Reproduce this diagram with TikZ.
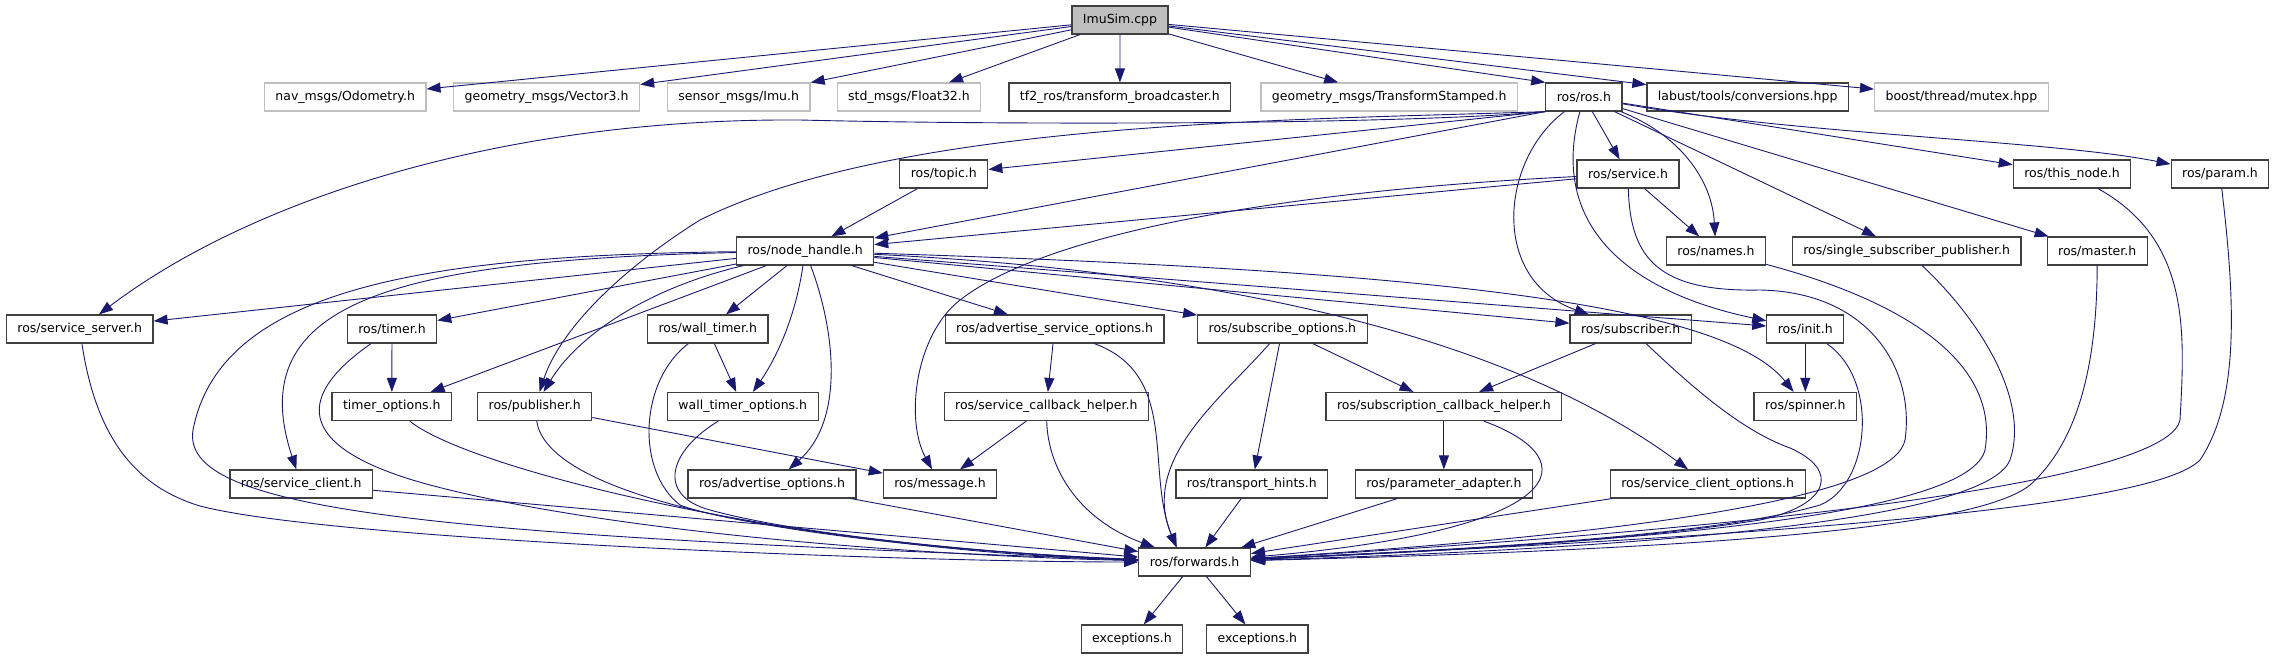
\documentclass[tikz,border=0pt]{standalone}
\usepackage{fontspec}
\setmainfont{DejaVu Sans}
\usetikzlibrary{arrows.meta}
\definecolor{edgeblue}{RGB}{25,25,112}

\begin{document}
\begin{tikzpicture}[x=1pt,y=-1pt,
  file/.style={draw=black!75, line width=1.2pt, fill=white, minimum height=28pt,
    inner xsep=11pt, inner ysep=0pt, font=\fontsize{12.5}{15}\selectfont},
  extfile/.style={file, draw=black!25},
  mainfile/.style={file, fill=black!25},
  inc/.style={color=edgeblue, line width=0.9pt, -{Triangle[length=14pt,width=10pt]}}]

\useasboundingbox (0,0) rectangle (2275,659);

\node[mainfile] (imusim) at (1120,20) {ImuSim.cpp};

\node[extfile] (odom) at (345.2,97) {nav\_msgs/Odometry.h};
\node[extfile] (vecthree) at (546.6,97) {geometry\_msgs/Vector3.h};
\node[extfile] (imu) at (738.7,97) {sensor\_msgs/Imu.h};
\node[extfile] (floatmsg) at (909,97) {std\_msgs/Float32.h};
\node[file] (tfbr) at (1119.9,97) {tf2\_ros/transform\_broadcaster.h};
\node[extfile] (tfstamped) at (1389.2,97) {geometry\_msgs/TransformStamped.h};
\node[file] (rosh) at (1583.9,97) {ros/ros.h};
\node[file] (labust) at (1747.7,97) {labust/tools/conversions.hpp};
\node[extfile] (mutex) at (1961.4,97) {boost/thread/mutex.hpp};

\node[file] (topic) at (943.8,174) {ros/topic.h};
\node[file] (service) at (1628,174) {ros/service.h};
\node[file] (thisnode) at (2072,174) {ros/this\_node.h};
\node[file] (param) at (2220,174) {ros/param.h};

\node[file] (nodehandle) at (805.1,251) {ros/node\_handle.h};
\node[file] (names) at (1715.9,251) {ros/names.h};
\node[file] (ssp) at (1906.6,251) {ros/single\_subscriber\_publisher.h};
\node[file] (master) at (2097.2,251) {ros/master.h};

\node[file] (srvserver) at (79.7,329) {ros/service\_server.h};
\node[file] (timer) at (392,329) {ros/timer.h};
\node[file] (walltimer) at (707.8,329) {ros/wall\_timer.h};
\node[file] (advsrvopt) at (1054.6,329) {ros/advertise\_service\_options.h};
\node[file] (subopt) at (1282.4,329) {ros/subscribe\_options.h};
\node[file] (subscriber) at (1630.6,329) {ros/subscriber.h};
\node[file] (init) at (1805.3,329) {ros/init.h};

\node[file] (timeropt) at (391.8,406.5) {timer\_options.h};
\node[file] (publisher) at (534.7,406.5) {ros/publisher.h};
\node[file] (walltimeropt) at (742.8,406.5) {wall\_timer\_options.h};
\node[file] (srvcb) at (1046.3,406.5) {ros/service\_callback\_helper.h};
\node[file] (subcb) at (1443.9,406.5) {ros/subscription\_callback\_helper.h};
\node[file] (spinner) at (1805.3,406.5) {ros/spinner.h};

\node[file] (srvclient) at (301.2,484) {ros/service\_client.h};
\node[file] (advopt) at (772,484) {ros/advertise\_options.h};
\node[file] (message) at (940,484) {ros/message.h};
\node[file] (transport) at (1251.9,484) {ros/transport\_hints.h};
\node[file] (paramadapt) at (1443.9,484) {ros/parameter\_adapter.h};
\node[file] (srvclientopt) at (1707.7,484) {ros/service\_client\_options.h};

\node[file] (forwards) at (1194.6,562) {ros/forwards.h};

\node[file] (excA) at (1131.9,639) {exceptions.h};
\node[file] (excB) at (1257.3,639) {exceptions.h};

\draw[inc] (imusim) edge (odom);
\draw[inc] (imusim) edge (vecthree);
\draw[inc] (imusim) edge (imu);
\draw[inc] (imusim) edge (floatmsg);
\draw[inc] (imusim) edge (tfbr);
\draw[inc] (imusim) edge (tfstamped);
\draw[inc] (imusim) -- (rosh.north west);
\draw[inc] (imusim) edge (labust);
\draw[inc] (imusim) edge (mutex);

\draw[inc] (rosh.south west) -- (topic);
\draw[inc] (rosh.south west) -- (nodehandle);
\draw[inc] (rosh) edge (service);
\draw[inc] (rosh) edge (ssp);
\draw[inc] (rosh) edge (master);
\draw[inc] (rosh) edge (thisnode);
\draw[inc] (rosh.south west) .. controls (1400,125) and (1000,125) .. (800,120)
  .. controls (500,118) and (250,200) .. (srvserver);
\draw[inc] (rosh.south west) .. controls (1300,120) and (900,120) .. (700,220)
  .. controls (620,270) and (560,330) .. (publisher);
\draw[inc] (rosh) .. controls (1680,135) and (1712,180) .. (names);
\draw[inc] (rosh) .. controls (1800,135) and (2050,140) .. (param);
\draw[inc] (rosh) .. controls (1500,160) and (1490,280) .. (subscriber);
\draw[inc] (rosh) .. controls (1550,220) and (1620,290) .. (init);

\draw[inc] (topic) edge (nodehandle);
\draw[inc] (service) edge (nodehandle);
\draw[inc] (service) edge (names);
\draw[inc] (service) .. controls (1300,190) and (1050,230) .. (960,300)
  .. controls (915,335) and (905,420) .. (message);
\draw[inc] (service) .. controls (1630,260) and (1660,292) .. (1760,290)
  .. controls (1870,292) and (1915,370) .. (1905,440)
  .. controls (1895,490) and (1700,530) .. (forwards);

\draw[inc] (nodehandle) edge (srvserver);
\draw[inc] (nodehandle) edge (timer);
\draw[inc] (nodehandle) edge (timeropt);
\draw[inc] (nodehandle) edge (walltimer);
\draw[inc] (nodehandle) edge (advsrvopt);
\draw[inc] (nodehandle) edge (subopt);
\draw[inc] (nodehandle) edge (subscriber);
\draw[inc] (nodehandle) edge (init);
\draw[inc] (nodehandle) .. controls (640,290) and (575,340) .. (publisher);
\draw[inc] (nodehandle) .. controls (400,260) and (240,300) .. (srvclient);
\draw[inc] (nodehandle) .. controls (420,255) and (220,290) .. (193,430)
  .. controls (180,510) and (420,535) .. (forwards);
\draw[inc] (nodehandle) .. controls (795,320) and (775,360) .. (walltimeropt);
\draw[inc] (nodehandle) .. controls (835,330) and (845,420) .. (advopt);
\draw[inc] (nodehandle) .. controls (1400,270) and (1720,300) .. (spinner);
\draw[inc] (nodehandle) .. controls (1200,270) and (1500,330) .. (srvclientopt);

\draw[inc] (srvserver) .. controls (95,430) and (130,485) .. (200,506)
  .. controls (330,540) and (900,562) .. (forwards);
\draw[inc] (timer) edge (timeropt);
\draw[inc] (timer) .. controls (290,400) and (300,450) .. (430,485)
  .. controls (600,530) and (900,555) .. (forwards);
\draw[inc] (timeropt) .. controls (470,470) and (800,550) .. (forwards);
\draw[inc] (publisher) edge (message);
\draw[inc] (publisher) .. controls (545,480) and (700,540) .. (forwards);
\draw[inc] (walltimer) edge (walltimeropt);
\draw[inc] (walltimer) .. controls (640,380) and (635,470) .. (680,505)
  .. controls (730,525) and (950,552) .. (forwards);
\draw[inc] (walltimeropt) .. controls (670,450) and (655,495) .. (710,510)
  .. controls (800,535) and (1000,555) .. (forwards);
\draw[inc] (srvclient) edge (forwards);
\draw[inc] (advopt) edge (forwards);

\draw[inc] (advsrvopt) edge (srvcb);
\draw[inc] (advsrvopt) .. controls (1180,375) and (1145,470) .. ([xshift=-18pt]forwards.north);
\draw[inc] (srvcb) edge (message);
\draw[inc] (srvcb) .. controls (1048,470) and (1080,520) .. (forwards);

\draw[inc] (subopt) edge (transport);
\draw[inc] (subopt) edge (subcb);
\draw[inc] (subopt) .. controls (1220,400) and (1140,460) .. ([xshift=-18pt]forwards.north);
\draw[inc] (subscriber) edge (subcb);
\draw[inc] (subscriber) .. controls (1690,385) and (1740,430) .. (1790,448)
  .. controls (1840,470) and (1830,505) .. (1760,520)
  .. controls (1600,545) and (1400,552) .. (forwards);
\draw[inc] (subcb) edge (paramadapt);
\draw[inc] (subcb) .. controls (1590,460) and (1570,530) .. (forwards);
\draw[inc] (transport) edge (forwards);
\draw[inc] (paramadapt) edge (forwards);
\draw[inc] (srvclientopt) edge (forwards);

\draw[inc] (init) edge (spinner);
\draw[inc] (init) .. controls (1880,380) and (1870,485) .. (1820,505)
  .. controls (1700,540) and (1400,552) .. (forwards);
\draw[inc] (names) .. controls (1900,300) and (2000,360) .. (1985,450)
  .. controls (1970,510) and (1700,540) .. (forwards);
\draw[inc] (ssp) .. controls (1980,320) and (2030,400) .. (2010,460)
  .. controls (1990,510) and (1750,545) .. (forwards);
\draw[inc] (master) .. controls (2097,360) and (2080,440) .. (2030,485)
  .. controls (1980,525) and (1750,548) .. (forwards);
\draw[inc] (thisnode) .. controls (2190,240) and (2185,330) .. (2180,420)
  .. controls (2170,470) and (1900,520) .. (forwards);
\draw[inc] (param) .. controls (2235,300) and (2240,400) .. (2200,460)
  .. controls (2160,500) and (1900,530) .. (forwards);

\draw[inc] (forwards) edge (excA);
\draw[inc] (forwards) edge (excB);

\end{tikzpicture}
\end{document}
